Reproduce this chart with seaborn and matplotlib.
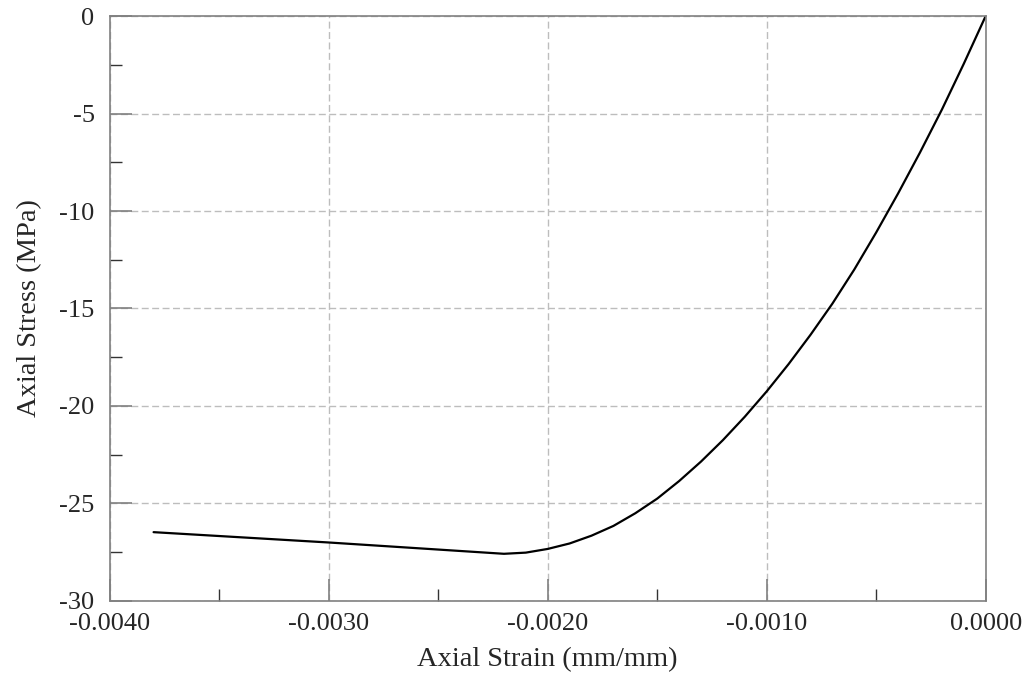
import matplotlib
matplotlib.use("Agg")
import matplotlib.pyplot as plt
import seaborn as sns
import pandas as pd
from matplotlib.ticker import MultipleLocator, FormatStrFormatter

strain = [0.0, -0.0001, -0.0002, -0.0003, -0.0004, -0.0005, -0.0006, -0.0007,
          -0.0008, -0.0009, -0.001, -0.0011, -0.0012, -0.0013, -0.0014,
          -0.0015, -0.0016, -0.0017, -0.0018, -0.0019, -0.002, -0.0021,
          -0.0022, -0.003, -0.0038]
stress = [0.0, -2.45, -4.8, -7.0, -9.1, -11.1, -13.0, -14.75,
          -16.35, -17.85, -19.25, -20.55, -21.75, -22.85, -23.85,
          -24.75, -25.5, -26.15, -26.65, -27.05, -27.33, -27.52,
          -27.58, -27.0, -26.47]

df = pd.DataFrame({"strain": strain, "stress": stress})

sns.set_style("white")
plt.rcParams["font.family"] = ["Liberation Serif", "DejaVu Serif"]

fig = plt.figure(figsize=(10.26, 6.87), dpi=100)
ax = fig.add_axes([0.107, 0.1252, 0.8537, 0.8515])

sns.lineplot(data=df, x="strain", y="stress", ax=ax, color="black",
             linewidth=1.6, sort=False, estimator=None)

ax.set_xlim(-0.004, 0.0)
ax.set_ylim(-30, 0)
ax.xaxis.set_major_locator(MultipleLocator(0.001))
ax.xaxis.set_minor_locator(MultipleLocator(0.0005))
ax.yaxis.set_major_locator(MultipleLocator(5))
ax.yaxis.set_minor_locator(MultipleLocator(2.5))
ax.xaxis.set_major_formatter(FormatStrFormatter("%.4f"))
ax.yaxis.set_major_formatter(FormatStrFormatter("%d"))

ax.grid(True, which="major", color="#bdbdbd", linestyle=(0, (5, 2.5)), linewidth=1.0)
ax.set_axisbelow(True)
for s in ax.spines.values():
    s.set_color("#808080")
    s.set_linewidth(1.2)

ax.tick_params(which="both", bottom=True, left=True, top=False, right=False)
ax.tick_params(which="major", direction="in", length=16, width=1.2, color="#808080",
               labelsize=19)
ax.tick_params(which="minor", direction="in", length=8.5, width=1.0, color="#333333")
ax.tick_params(axis="y", which="major", pad=11)
ax.tick_params(axis="x", which="major", pad=9)

ax.set_xlabel("Axial Strain (mm/mm)", fontsize=20.5, labelpad=8)
ax.set_ylabel("Axial Stress (MPa)", fontsize=20.5, labelpad=12)

fig.savefig("out.png", dpi=100)
